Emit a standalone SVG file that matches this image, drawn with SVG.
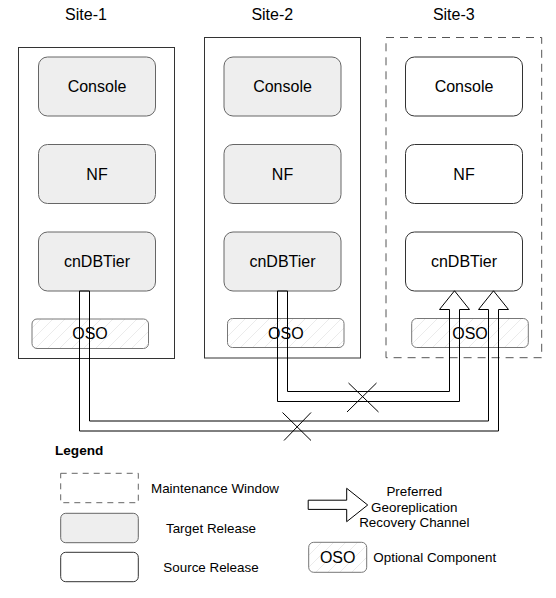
<svg xmlns="http://www.w3.org/2000/svg" width="556" height="598" viewBox="0 0 556 598">
<style>
text{font-family:"Liberation Sans",Arial,sans-serif;fill:#000;}
.t16{font-size:16px;text-anchor:middle;}
.lg{font-size:13.4px;}
.site{fill:#fff;stroke:#333;stroke-width:1;}
.siteDash{fill:#fff;stroke:#555;stroke-width:1;stroke-dasharray:8 6;}
.tgt{fill:#eeeeee;stroke:#666;stroke-width:1;}
.src{fill:#fff;stroke:#333;stroke-width:1;}
.oso{fill:url(#hatch);stroke:#777;stroke-width:1;}
.pipe{fill:none;stroke:#000;stroke-width:1;}
.x{stroke:#000;stroke-width:1;}
</style>
<defs>
<pattern id="hatch" patternUnits="userSpaceOnUse" width="12" height="12">
<rect width="12" height="12" fill="#fff"/>
<path d="M-1,13 L13,-1 M-7,7 L7,-7 M5,19 L19,5" stroke="#e2e2e2" stroke-width="0.7"/>
</pattern>
</defs>
<rect width="556" height="598" fill="#fff"/>

<g id="site-1">
<text class="t16" x="86" y="19.5">Site-1</text>
<rect class="site" x="18.5" y="47.5" width="156" height="311"/>
<g id="s1-console"><rect class="tgt" x="38.5" y="57" width="117" height="59" rx="9"/><text class="t16" x="97" y="92">Console</text></g>
<g id="s1-nf"><rect class="tgt" x="38.5" y="144.5" width="117" height="59" rx="9"/><text class="t16" x="97" y="179.5">NF</text></g>
<g id="s1-cndbtier"><rect class="tgt" x="38.5" y="232" width="117" height="59" rx="9"/><text class="t16" x="97" y="267">cnDBTier</text></g>
<g id="s1-oso"><rect class="oso" x="32" y="319" width="116.5" height="29.5" rx="5"/><text class="t16" x="90" y="339">OSO</text></g>
</g>

<g id="site-2">
<text class="t16" x="272.3" y="19.5">Site-2</text>
<rect class="site" x="204.5" y="37.5" width="156" height="320.5"/>
<g id="s2-console"><rect class="tgt" x="224" y="57" width="117" height="59" rx="9"/><text class="t16" x="282.5" y="92">Console</text></g>
<g id="s2-nf"><rect class="tgt" x="224" y="144.5" width="117" height="59" rx="9"/><text class="t16" x="282.5" y="179.5">NF</text></g>
<g id="s2-cndbtier"><rect class="tgt" x="224" y="232" width="117" height="59" rx="9"/><text class="t16" x="282.5" y="267">cnDBTier</text></g>
<g id="s2-oso"><rect class="oso" x="227.5" y="318.5" width="116.5" height="29" rx="5"/><text class="t16" x="285.8" y="338.5">OSO</text></g>
</g>

<g id="site-3">
<text class="t16" x="453.8" y="19.5">Site-3</text>
<rect class="siteDash" x="386" y="37.5" width="155.7" height="320.2"/>
<g id="s3-console"><rect class="src" x="405.5" y="57" width="117" height="59" rx="9"/><text class="t16" x="464" y="92">Console</text></g>
<g id="s3-nf"><rect class="src" x="405.5" y="144.5" width="117" height="59" rx="9"/><text class="t16" x="464" y="179.5">NF</text></g>
<g id="s3-cndbtier"><rect class="src" x="405.5" y="232" width="117" height="59" rx="9"/><text class="t16" x="464" y="267">cnDBTier</text></g>
<g id="s3-oso"><rect class="oso" x="411.7" y="318.5" width="116.6" height="29" rx="5"/><text class="t16" x="470" y="338.5">OSO</text></g>
</g>

<g id="connectors">
<path class="pipe" d="M79.5,291 L79.5,431 L498.5,431 L498.5,309.5 L508.5,309.5 L493.5,290.8 L478.5,309.5 L488.5,309.5 L488.5,421 L89.5,421 L89.5,291 Z"/>
<path class="pipe" d="M277.5,291 L277.5,401.5 L459.5,401.5 L459.5,309.5 L469.5,309.5 L454.5,290.8 L439.5,309.5 L449.5,309.5 L449.5,391.5 L287.5,391.5 L287.5,291 Z"/>
<g id="cross-1"><line class="x" x1="348.5" y1="383" x2="378.5" y2="412"/><line class="x" x1="376.5" y1="383" x2="347" y2="412"/></g>
<g id="cross-2"><line class="x" x1="282.5" y1="412.5" x2="311" y2="440.5"/><line class="x" x1="311" y1="412.5" x2="284" y2="440.5"/></g>
</g>

<g id="legend">
<text x="55" y="454.5" style="font-size:13.6px;font-weight:bold;">Legend</text>
<g id="lg-maint"><rect x="60.7" y="473.3" width="77.6" height="29.4" fill="#fff" stroke="#666" stroke-dasharray="6 5"/><text class="lg" x="151" y="492.5">Maintenance Window</text></g>
<g id="lg-target"><rect class="tgt" x="60.7" y="513.3" width="77.6" height="29.4" rx="5"/><text class="lg" x="211" y="533" text-anchor="middle">Target Release</text></g>
<g id="lg-source"><rect class="src" x="60.7" y="552.3" width="77.6" height="29.4" rx="5"/><text class="lg" x="211" y="571.7" text-anchor="middle">Source Release</text></g>
<g id="lg-arrow"><path class="pipe" d="M308.2,500.2 L346.7,500.2 L346.7,488.3 L367.7,505 L346.7,521.7 L346.7,509.4 L308.2,509.4 Z"/>
<text class="lg" x="414.3" y="495.7" text-anchor="middle">Preferred</text>
<text class="lg" x="414.3" y="511.7" text-anchor="middle">Georeplication</text>
<text class="lg" x="414.3" y="527.4" text-anchor="middle">Recovery Channel</text></g>
<g id="lg-oso"><rect class="oso" x="308.7" y="542.3" width="58" height="30" rx="5"/><text class="t16" x="337.7" y="562.7">OSO</text><text class="lg" x="373.3" y="561.7">Optional Component</text></g>
</g>
</svg>
